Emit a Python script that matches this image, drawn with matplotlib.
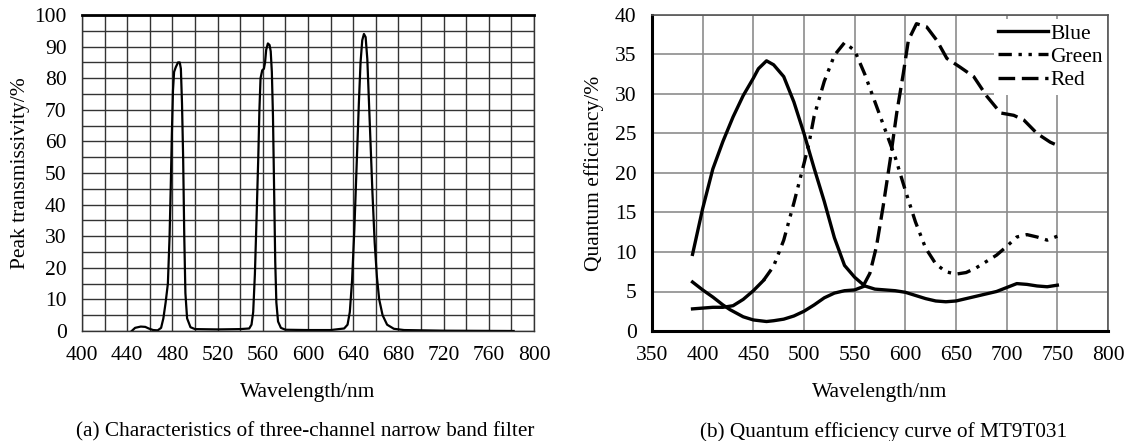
import matplotlib
matplotlib.use("Agg")
import matplotlib.pyplot as plt

plt.rcParams['font.family'] = ['Liberation Serif', 'DejaVu Serif']

# (a) narrow band filter transmission
filter_wl = [444, 447, 452, 456, 459, 463, 467, 470, 472, 474, 476, 477.5, 478.5, 479.5, 480.5, 481.5,
             483, 485, 486.5, 487.5, 488.5, 489.5, 490.5, 491.5, 493, 496, 500, 520, 540, 548,
             550, 551.5, 553, 554.5, 556, 557, 558, 559.5, 561, 562, 563, 564.5, 566, 567, 568,
             569, 570, 571, 572, 573.5, 576, 580, 600, 620, 632, 635, 637, 639, 641, 643, 645,
             646.5, 648, 649.5, 651, 652.5, 654, 655.5, 657, 659, 661, 663, 666, 670, 676, 685, 720, 782]
filter_t = [0, 1.0, 1.4, 1.3, 0.8, 0.3, 0.2, 1.0, 4, 9, 15, 30, 45, 62, 76, 82,
            83.5, 85, 85, 83, 72, 55, 30, 12, 4, 1.2, 0.6, 0.5, 0.6, 0.8,
            2, 6, 18, 36, 55, 70, 80, 82.5, 83, 85, 89, 91, 90.5, 88.5, 82,
            68, 45, 22, 9, 3, 1, 0.4, 0.3, 0.3, 0.8, 2, 6, 16, 32, 52, 72,
            85, 92, 94, 93, 86, 72, 58, 44, 28, 17, 10, 5, 2, 0.7, 0.3, 0.1, 0]

# (b) quantum efficiency of MT9T031
blue_wl = [390, 400, 410, 420, 430, 440, 450, 455, 463, 470, 480, 490, 500, 510, 520, 530, 540, 550,
           560, 570, 580, 590, 600, 610, 620, 630, 640, 650, 660, 670, 680, 690, 700, 710, 720, 730, 740, 750]
blue = [9.7, 15.5, 20.5, 24, 27.1, 29.8, 32, 33.2, 34.2, 33.7, 32.2, 29, 25, 20.6, 16.4, 11.8, 8.3, 6.8,
        5.7, 5.3, 5.2, 5.1, 4.9, 4.5, 4.1, 3.8, 3.7, 3.8, 4.1, 4.4, 4.7, 5.0, 5.5, 6.0, 5.9, 5.7, 5.6, 5.8]

green_wl = [390, 400, 410, 420, 430, 440, 450, 460, 470, 480, 490, 500, 505, 510, 520, 530, 540, 550,
            560, 570, 580, 590, 600, 610, 620, 630, 640, 650, 660, 670, 680, 690, 700, 710, 720, 730, 740, 750]
green = [2.8, 2.9, 3.0, 3.0, 3.2, 4.0, 5.1, 6.4, 8.2, 11.5, 16.2, 21.2, 23.8, 27.2, 31.6, 34.9, 36.5, 35.5,
         32.5, 29, 25.5, 22, 17.8, 13.8, 10.5, 8.5, 7.5, 7.2, 7.4, 8.0, 8.8, 9.6, 10.7, 11.9, 12.2, 11.9, 11.5, 12.0]

red_wl = [390, 400, 410, 420, 427, 440, 450, 463, 470, 480, 490, 500, 510, 520, 530, 540, 550, 558,
          565, 571.5, 578, 585, 591.5, 598, 603, 611, 621, 631, 641, 654, 667.5, 680.5, 694, 707,
          717, 730, 743, 750]
red = [6.2, 5.2, 4.3, 3.3, 2.7, 1.8, 1.4, 1.2, 1.3, 1.5, 1.9, 2.5, 3.3, 4.2, 4.8, 5.1, 5.2, 5.6,
       7.3, 10.7, 15.7, 21.6, 27.6, 32.6, 36.8, 38.9, 38.5, 36.8, 34.5, 33.4, 32.2, 29.7, 27.6, 27.3,
       26.7, 25.0, 23.9, 23.5]

# in the source the flat low parts of green and red are drawn as continuous strokes
green_solid_end = 8   # up to 470 nm
red_solid_end = 18    # up to 558 nm

fig = plt.figure(figsize=(11.36, 4.41), dpi=100)

# ---- panel (a)
ax1 = fig.add_axes([82/1136, 110/441, 452/1136, 316/441])
ax1.plot(filter_wl, filter_t, color='black', lw=1.6)
ax1.set_xlim(400, 800)
ax1.set_ylim(0, 100)
ax1.set_xticks(range(400, 801, 40))
ax1.set_xticks(range(400, 801, 20), minor=True)
ax1.set_yticks(range(0, 101, 10))
ax1.set_yticks(range(0, 101, 5), minor=True)
ax1.grid(True, which='both', color='#333333', lw=1.0)
ax1.set_axisbelow(True)
ax1.tick_params(which='both', length=0, labelsize=15.5, pad=11)
for s in ['left', 'right', 'bottom']:
    ax1.spines[s].set_color('#333333')
    ax1.spines[s].set_linewidth(1.0)
ax1.spines['top'].set_linewidth(2.0)
ax1.set_xlabel('Wavelength/nm', fontsize=15.5, labelpad=13)
ax1.set_ylabel('Peak transmissivity/%', fontsize=15.5, labelpad=3)

# ---- panel (b)
ax2 = fig.add_axes([652/1136, 110/441, 456/1136, 316/441])
ax2.plot(blue_wl, blue, color='black', lw=2.4, label='Blue')
ax2.plot(green_wl[:green_solid_end], green[:green_solid_end], color='black', lw=2.4)
ax2.plot(green_wl[green_solid_end - 1:], green[green_solid_end - 1:], color='black', lw=2.4,
         linestyle=(0, (4, 2, 1, 2, 1, 2)), label='Green')
ax2.plot(red_wl[:red_solid_end], red[:red_solid_end], color='black', lw=2.4)
ax2.plot(red_wl[red_solid_end - 1:], red[red_solid_end - 1:], color='black', lw=2.4,
         linestyle=(0, (5, 2)), label='Red')
ax2.set_xlim(350, 800)
ax2.set_ylim(0, 40)
ax2.set_xticks(range(350, 801, 50))
ax2.set_yticks(range(0, 41, 5))
ax2.grid(True, color='#8c8c8c', lw=1.2)
ax2.set_axisbelow(True)
ax2.tick_params(length=0, labelsize=15.5, pad=11)
for s in ['left', 'bottom']:
    ax2.spines[s].set_linewidth(2.2)
    ax2.spines[s].set_color('black')
for s in ['top', 'right']:
    ax2.spines[s].set_linewidth(1.2)
    ax2.spines[s].set_color('#555555')
ax2.set_xlabel('Wavelength/nm', fontsize=15.5, labelpad=13)
ax2.set_ylabel('Quantum efficiency/%', fontsize=15.5, labelpad=8)
leg = ax2.legend(loc='upper right', bbox_to_anchor=(1.0, 0.99), fontsize=15.5,
                 frameon=True, fancybox=False,
                 handlelength=2.3, handletextpad=0.1, labelspacing=0.15,
                 borderpad=0.2, borderaxespad=0.05)
leg.get_frame().set_edgecolor('none')
leg.get_frame().set_facecolor('white')
leg.get_frame().set_alpha(1.0)

fig.text(305/1136, 0.02, '(a) Characteristics of three-channel narrow band filter',
         ha='center', va='center', fontsize=15.3)
fig.text(884/1136, 0.02, '(b) Quantum efficiency curve of MT9T031',
         ha='center', va='center', fontsize=15.3)

fig.savefig('out.png', dpi=100)
